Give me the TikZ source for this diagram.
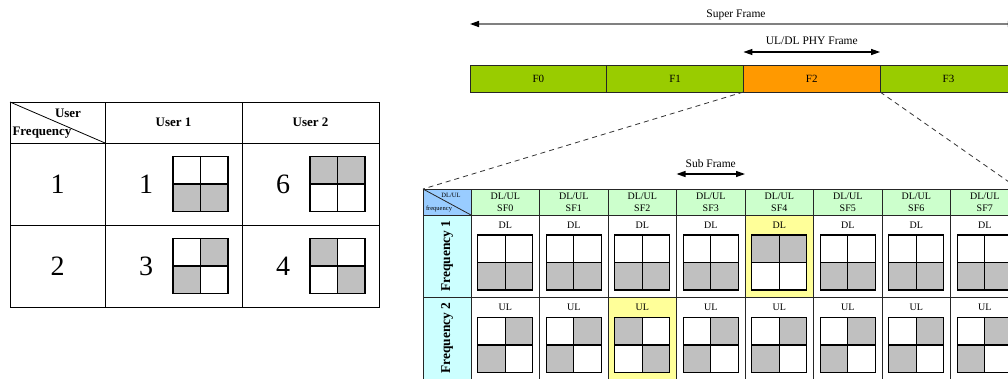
\documentclass[tikz,border=0pt]{standalone}
\usepackage{fontspec}
\setmainfont{Liberation Serif}
\usetikzlibrary{arrows.meta, positioning, calc}
\definecolor{sfGreen}{HTML}{99CC00}
\definecolor{sfOrange}{HTML}{FF9900}
\definecolor{sfHead}{HTML}{CCFFCC}
\definecolor{sfBlue}{HTML}{99CCFF}
\definecolor{sfCyan}{HTML}{CCFFFF}
\definecolor{sfYellow}{HTML}{FFFF99}
\definecolor{sfGray}{HTML}{C0C0C0}
\definecolor{sfLine}{HTML}{808080}

% 2x2 block: #1 centre, then fills of tl, tr, bl, br
\newcommand{\quadcell}[5]{%
  \begin{scope}[shift={#1}]
    \fill[#2] (-27.5,-27.5) rectangle (0,0);
    \fill[#3] (0,-27.5) rectangle (27.5,0);
    \fill[#4] (-27.5,0) rectangle (0,27.5);
    \fill[#5] (0,0) rectangle (27.5,27.5);
    \draw[line width=1.2pt] (-27.5,-27.5) rectangle (27.5,27.5)
      (0,-27.5) -- (0,27.5) (-27.5,0) -- (27.5,0);
  \end{scope}}
\newcommand{\grayLow}[1]{\quadcell{#1}{white}{white}{sfGray}{sfGray}}
\newcommand{\grayTop}[1]{\quadcell{#1}{sfGray}{sfGray}{white}{white}}
\newcommand{\grayDiag}[1]{\quadcell{#1}{white}{sfGray}{sfGray}{white}}
\newcommand{\grayAnti}[1]{\quadcell{#1}{sfGray}{white}{white}{sfGray}}

\begin{document}
\begin{tikzpicture}[x=1pt, y=-1pt,
  every node/.style={inner sep=0pt, outer sep=0pt},
  tabcell/.style={draw, line width=0.8pt, anchor=north west},
  bighead/.style={font=\fontsize{13}{15}\selectfont\bfseries},
  bigdigit/.style={font=\fontsize{28}{30}\selectfont},
  frm/.style={anchor=north west, minimum width=136.7pt, minimum height=27pt,
              font=\fontsize{11}{13}\selectfont},
  subcell/.style={anchor=north west, minimum width=68.5pt},
  cellfont/.style={font=\fontsize{10}{12.5}\selectfont},
  cornerfont/.style={font=\fontsize{6.5}{7}\selectfont},
  lbl/.style={font=\fontsize{11.5}{13}\selectfont},
  tline/.style={draw=black!85, line width=0.8pt},
  dimarrow/.style={line width=1.2pt,
    {Triangle[length=9pt,width=6pt]}-{Triangle[length=9pt,width=6pt]}},
  zoomline/.style={dash pattern=on 5pt off 4pt, line width=0.8pt, black!80}]
  \useasboundingbox (0,0) rectangle (1008,378);
  \clip (0,0) rectangle (1008,378);

  % left table
  \node[tabcell, minimum width=95pt, minimum height=41pt] (corner) at (10,102) {};
  \draw[line width=0.8pt] (corner.north west) -- (corner.south east);
  \node[bighead] (userhd) at (68,113) {User};
  \node[bighead] (freqhd) at (42,133) {Frequency};
  \node[tabcell, bighead, minimum width=137pt, minimum height=41pt] (user1) at (105,102) {User 1};
  \node[tabcell, bighead, minimum width=137pt, minimum height=41pt] (user2) at (242,102) {User 2};
  \foreach \row/\y/\da/\pa/\db/\pb in {1/143/1/\grayLow/6/\grayTop, 2/225/3/\grayDiag/4/\grayAnti} {
    \node[tabcell, bigdigit, minimum width=95pt, minimum height=82pt] (fq\row) at (10,\y) {\row};
    \node[tabcell, minimum width=137pt, minimum height=82pt] (ua\row) at (105,\y) {};
    \node[tabcell, minimum width=137pt, minimum height=82pt] (ub\row) at (242,\y) {};
    \node[bigdigit] (na\row) at ($(ua\row.west)+(41,0)$) {\da};
    \node[bigdigit] (nb\row) at ($(ub\row.west)+(41,0)$) {\db};
    \pa{($(ua\row.west)+(95.5,0)$)}
    \pb{($(ub\row.west)+(95.5,0)$)}
  }

  % frame bar
  \foreach \k/\col in {0/sfGreen, 1/sfGreen, 2/sfOrange, 3/sfGreen}
    \node[frm, fill=\col] (f\k) at (470+136.7*\k,65) {F\k};
  \draw[tline] (f0.north west) rectangle (f3.south east)
    (f1.north west) -- (f1.south west) (f2.north west) -- (f2.south west)
    (f3.north west) -- (f3.south west);
  \draw[sfLine, line width=1.4pt,
    {Triangle[length=9pt,width=6pt,color=black]}-{Triangle[length=9pt,width=6pt,color=black]}]
    ($(f0.north west)+(0,-41)$) -- ($(f3.north east)+(0,-41)$);
  \node[lbl] (superlbl) at (736,15) {Super Frame};
  \draw[dimarrow] ($(f2.north west)+(0,-13)$) --
    node[above=7pt, lbl] (phylbl) {UL/DL PHY Frame} ($(f2.north east)+(0,-13)$);

  % sub frame table
  \node[anchor=north west, fill=sfBlue, minimum width=48pt, minimum height=26pt] (dcorner) at (423,189) {};
  \draw[tline] (dcorner.north west) -- (dcorner.south east);
  \node[cornerfont] (dlul) at (451,195) {DL/UL};
  \node[cornerfont] (freqsm) at (439,209) {frequency};
  \foreach \row/\y in {1/215, 2/297} {
    \node[anchor=north west, fill=sfCyan, minimum width=48pt, minimum height=82pt] (fr\row) at (423,\y) {};
    \node[rotate=90, font=\fontsize{13.5}{15}\selectfont\bfseries] (frt\row) at (fr\row.center) {Frequency \row};
  }
  \foreach \i/\fa/\pa/\fb/\pb in {0/white/\grayLow/white/\grayDiag, 1/white/\grayLow/white/\grayDiag,
      2/white/\grayLow/sfYellow/\grayAnti, 3/white/\grayLow/white/\grayDiag,
      4/sfYellow/\grayTop/white/\grayDiag, 5/white/\grayLow/white/\grayDiag,
      6/white/\grayLow/white/\grayDiag, 7/white/\grayLow/white/\grayDiag} {
    \node[subcell, fill=sfHead, minimum height=26pt, align=center, cellfont] (sf\i) at (471+68.5*\i,189) {DL/UL\\SF\i};
    \node[subcell, fill=\fa, minimum height=82pt] (up\i) at (sf\i.south west) {};
    \node[subcell, fill=\fb, minimum height=82pt] (dn\i) at (up\i.south west) {};
    \node[cellfont] (dl\i) at ($(up\i.north)+(0,10)$) {DL};
    \node[cellfont] (ul\i) at ($(dn\i.north)+(0,10)$) {UL};
    \pa{($(up\i.center)+(0,6.5)$)}
    \pb{($(dn\i.center)+(0,7)$)}
  }
  \draw[tline] (dcorner.north west) rectangle (fr2.south east)
    (fr1.north west) -- (fr1.north east) (fr2.north west) -- (fr2.north east);
  \foreach \i in {0,...,7}
    \draw[tline] (sf\i.north west) rectangle (dn\i.south east)
      (up\i.north west) -- (up\i.north east) (dn\i.north west) -- (dn\i.north east);
  \draw[dimarrow] ($(sf3.north west)+(0,-15)$) --
    node[above=6pt, lbl] (sublbl) {Sub Frame} ($(sf3.north east)+(0,-15)$);

  % zoom lines
  \draw[zoomline] (f2.south west) -- (dcorner.north west)
    (f2.south east) -- (sf7.north east);
\end{tikzpicture}
\end{document}
